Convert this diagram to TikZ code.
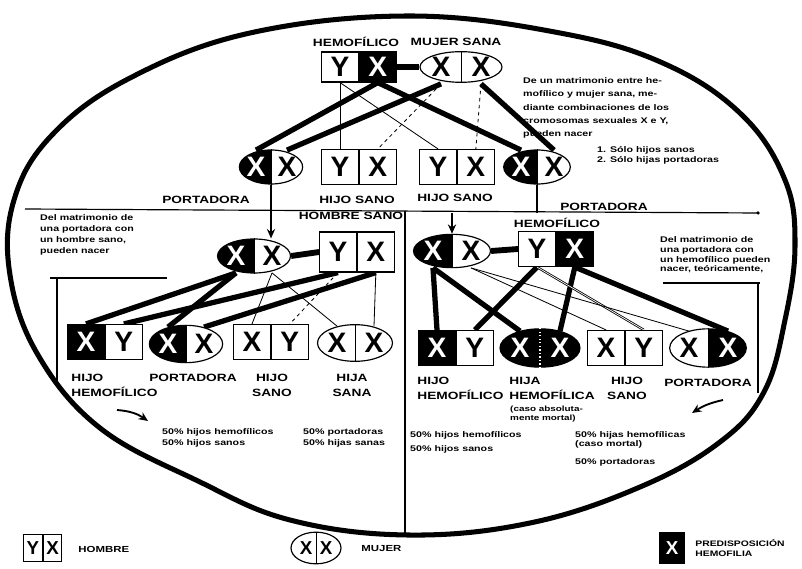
\documentclass[tikz,border=0pt]{standalone}
\usepackage{fontspec}
\setmainfont{Liberation Sans}
\newfontfamily\widesans[FakeStretch=1.3]{Liberation Sans}
\usetikzlibrary{calc,positioning,shapes.geometric,backgrounds,arrows.meta}

\newcommand{\chromfont}{\fontsize{24}{24}\selectfont\bfseries}
\newcommand{\keyfont}{\fontsize{16}{16}\selectfont\bfseries}
\newcommand{\tagfont}{\widesans\fontsize{9}{12.5}\selectfont\bfseries}
\newcommand{\notefont}{\widesans\fontsize{7}{9.4}\selectfont\bfseries}

\tikzset{
  cell/.style={draw, line width=1pt, fill=white, minimum width=1.1cm, minimum height=1.05cm, inner sep=0pt, font=\chromfont},
  cellx/.style={cell, fill=black, text=white},
  egg/.style={draw, line width=1pt, ellipse, fill=white, inner sep=0pt},
  leftdark/.style={path picture={\fill[black] (path picture bounding box.south west) rectangle (path picture bounding box.north);}},
  rightdark/.style={path picture={\fill[black] (path picture bounding box.south east) rectangle (path picture bounding box.north);}},
  gene/.style={inner sep=0pt, minimum width=1cm, minimum height=1cm, font=\chromfont},
  genex/.style={gene, text=white},
  bar/.style={line width=5pt},
  heavy/.style={line width=4.5pt},
  fine/.style={line width=0.7pt},
  broken/.style={line width=0.7pt, dashed},
  rule/.style={line width=1pt},
  tag/.style={font=\tagfont, align=center, inner sep=1pt},
  note/.style={font=\notefont, align=left, inner sep=0pt, anchor=west},
  pointer/.style={line width=1.6pt, -{Stealth[length=8pt,width=7pt]}},
}

\begin{document}
\begin{tikzpicture}[x=0.03cm, y=-0.03cm]
\useasboundingbox (0,0) rectangle (802,569);
% contorno
\draw[line width=4.3pt] plot[smooth cycle, tension=0.65] coordinates {(410,16) (560,33) (665,64) (742,115) (785,180) (795,245) (785,320) (764,392) (720,442) (640,487) (530,523) (408,535) (290,520) (198,481) (100,428) (38,355) (10,275) (14,200) (52,135) (130,78) (250,33)};
\coordinate (fbot) at (405,535);

% padres
\node[tag] (lHem) at (356,42) {HEMOFÍLICO};
\node[tag] (lSana) at (456,42) {MUJER SANA};
\node[cell, minimum height=0.9cm] (f1) at (340,67) {Y};
\node[cellx, minimum height=0.9cm, right=0pt of f1] (f2) {X};
\node[egg, minimum width=2.46cm, minimum height=0.92cm] (m) at (461,67) {};
\draw (m.north) -- (m.south);
\node[gene] (m1) at (441,67) {X};
\node[gene] (m2) at (481,67) {X};
\draw[bar] (f2.east) -- (m.west);

% primera generacion
\node[egg, leftdark, minimum width=1.9cm, minimum height=1.02cm] (c1) at (271,167) {};
\draw (c1.north) -- (c1.south);
\node[genex] (c1a) at (256,167) {X};
\node[gene] (c1b) at (287,167) {X};
\node[cell] (c2a) at (340,167) {Y};
\node[cell, right=0pt of c2a] (c2b) {X};
\node[cell] (c3a) at (438,167) {Y};
\node[cell, right=0pt of c3a] (c3b) {X};
\node[egg, leftdark, minimum width=2.0cm, minimum height=1.02cm] (c4) at (537,167) {};
\draw (c4.north) -- (c4.south);
\node[genex] (c4a) at (521,167) {X};
\node[gene] (c4b) at (554,167) {X};
\node[tag] (lPor1) at (206,200) {PORTADORA};
\node[tag] (lSan1) at (357,200) {HIJO SANO};
\node[tag] (lSan2) at (455,198) {HIJO SANO};
\node[tag] (lPor2) at (604,207) {PORTADORA};

\node[note, font=\widesans\fontsize{7}{11.3}\selectfont\bfseries] (nTop) at (523,108) {De un matrimonio entre he-\\mofílico y mujer sana, me-\\diante combinaciones de los\\cromosomas sexuales X e Y,\\pueden nacer};
\node[note, font=\widesans\fontsize{7}{8.6}\selectfont\bfseries] (nList) at (597,155) {1. Sólo hijos sanos\\2. Sólo hijas portadoras};

% lineas divisorias
\coordinate (ruleL) at (25,209);
\coordinate (ruleR) at (758,213);
\coordinate (split) at (405,211);
\draw[rule] (ruleL) -- (ruleR);
\fill (ruleR) circle[radius=1.5pt];
\draw[rule] (split) -- (fbot);

% segunda generacion, izquierda
\node[tag] (lHS) at (351,216) {HOMBRE SANO};
\node[egg, leftdark, minimum width=2.19cm, minimum height=1.02cm] (p) at (254,256) {};
\draw (p.north) -- (p.south);
\node[genex] (pa) at (236,256) {X};
\node[gene] (pb) at (272,256) {X};
\node[cell, minimum height=1.2cm] (qa) at (338,252) {Y};
\node[cell, minimum height=1.2cm, right=0pt of qa] (qb) {X};
\draw[bar] (p.east) -- (qa.west);
\draw[pointer] (c1.south) -- (c1.south |- p.north);
\node[note] (nLeft) at (40,235) {Del matrimonio de\\una portadora con\\un hombre sano,\\pueden nacer};

% segunda generacion, derecha
\node[tag] (lHem2) at (557,223) {HEMOFÍLICO};
\node[egg, leftdark, minimum width=2.31cm, minimum height=1.0cm] (r) at (452,251) {};
\draw (r.north) -- (r.south);
\node[genex] (ra) at (433,251) {X};
\node[gene] (rb) at (471,251) {X};
\node[cell] (sa) at (537,249) {Y};
\node[cellx, right=0pt of sa] (sb) {X};
\draw[bar] (r.east) -- (sa.west);
\coordinate (dropR) at (c4.south |- ruleR);
\draw[rule] (c4.south) -- (dropR);
\draw[pointer] (r.north |- ruleR) -- (r.north);
\node[note, font=\widesans\fontsize{7}{8.2}\selectfont\bfseries] (nRight) at (660,255) {Del matrimonio de\\una portadora con\\un hemofílico pueden\\nacer, teóricamente,};

% tercera generacion, izquierda
\node[cellx] (d1a) at (86,342) {X};
\node[cell, right=0pt of d1a] (d1b) {Y};
\node[egg, leftdark, minimum width=2.2cm, minimum height=1.12cm] (d2) at (186,344) {};
\draw (d2.north) -- (d2.south);
\node[genex] (d2a) at (168,344) {X};
\node[gene] (d2b) at (204,344) {X};
\node[cell] (d3a) at (252,342) {X};
\node[cell, right=0pt of d3a] (d3b) {Y};
\node[egg, minimum width=2.25cm, minimum height=1.1cm] (d4) at (355,343) {};
\draw (d4.north) -- (d4.south);
\node[gene] (d4a) at (337,343) {X};
\node[gene] (d4b) at (374,343) {X};
\node[tag, align=left, anchor=north west] (lD1) at (70,373) {HIJO\\HEMOFÍLICO};
\node[tag, anchor=north] (lD2) at (193,373) {PORTADORA};
\node[tag, anchor=north] (lD3) at (272,373) {HIJO\\SANO};
\node[tag, anchor=north] (lD4) at (352,373) {HIJA\\SANA};

% tercera generacion, derecha
\node[cellx] (e1a) at (437,348) {X};
\node[cell, right=0pt of e1a] (e1b) {Y};
\node[egg, fill=black, minimum width=2.4cm, minimum height=1.15cm] (e2) at (540,348) {};
\draw[white, dotted, line width=1pt] (e2.north) -- (e2.south);
\node[genex] (e2a) at (520,348) {X};
\node[genex] (e2b) at (560,348) {X};
\node[cell] (e3a) at (606,348) {X};
\node[cell, right=0pt of e3a] (e3b) {Y};
\node[egg, rightdark, minimum width=2.3cm, minimum height=1.15cm] (e4) at (708,348) {};
\draw (e4.north) -- (e4.south);
\node[gene] (e4a) at (689,348) {X};
\node[genex] (e4b) at (728,348) {X};
\node[tag, align=left, anchor=north west] (lE1) at (416,376) {HIJO\\HEMOFÍLICO};
\node[tag, align=left, anchor=north west] (lE2) at (508,376) {HIJA\\HEMOFÍLICA};
\node[note, anchor=north west, font=\widesans\fontsize{6.5}{7.5}\selectfont\bfseries] (lE2b) at (510,406) {(caso absoluta-\\mente mortal)};
\node[tag, anchor=north] (lE3) at (627,376) {HIJO\\SANO};
\node[tag, anchor=north] (lE4) at (708,378) {PORTADORA};

% llaves laterales
\coordinate (kL1) at (50,278);
\coordinate (kL2) at (167,278);
\coordinate (kL3) at (57,278);
\coordinate (kL4) at (57,382);
\draw[rule] (kL1) -- (kL2);
\draw[rule] (kL3) -- (kL4);
\coordinate (kR1) at (663,283);
\coordinate (kR2) at (760,283);
\coordinate (kR3) at (758,283);
\coordinate (kR4) at (758,393);
\draw[rule] (kR1) -- (kR2);
\draw[rule] (kR3) -- (kR4);
\coordinate (aL1) at (117,410);
\coordinate (aL2) at (148,421);
\draw[pointer] (aL1) to[bend left=15] (aL2);
\coordinate (aR1) at (723,400);
\coordinate (aR2) at (692,413);
\draw[pointer] (aR1) to[bend right=10] (aR2);

% porcentajes
\node[note, font=\widesans\fontsize{7}{9.4}\selectfont\bfseries] (pL1) at (162,438) {50\% hijos hemofílicos\\50\% hijos sanos};
\node[note, font=\widesans\fontsize{7}{9.4}\selectfont\bfseries] (pL2) at (303,438) {50\% portadoras\\50\% hijas sanas};
\node[note, font=\widesans\fontsize{7}{12}\selectfont\bfseries] (pR1) at (410,442) {50\% hijos hemofílicos\\50\% hijos sanos};
\node[note, font=\widesans\fontsize{7}{7.8}\selectfont\bfseries] (pR2) at (575,440) {50\% hijas hemofílicas\\(caso mortal)};
\node[note] (pR3) at (575,462) {50\% portadoras};

% leyenda
\node[cell, minimum width=0.55cm, minimum height=0.8cm, font=\keyfont] (kY) at (33,548) {Y};
\node[cell, minimum width=0.55cm, minimum height=0.8cm, font=\keyfont, right=0pt of kY] (kX) {X};
\node[tag, anchor=west, font=\widesans\fontsize{7.5}{8}\selectfont\bfseries] (lMan) at (77,549) {HOMBRE};
\node[egg, minimum width=1.5cm, minimum height=0.95cm] (kW) at (316,548) {};
\draw (kW.north) -- (kW.south);
\node[gene, minimum width=0.7cm, font=\keyfont] (kW1) at (306,548) {X};
\node[gene, minimum width=0.7cm, font=\keyfont] (kW2) at (326,548) {X};
\node[tag, anchor=west, font=\widesans\fontsize{7.5}{8}\selectfont\bfseries] (lWoman) at (360,549) {MUJER};
\node[cellx, minimum width=0.75cm, minimum height=0.95cm, font=\keyfont] (kB) at (672,548) {X};
\node[tag, anchor=west, align=left, font=\widesans\fontsize{6.8}{8.5}\selectfont\bfseries] (lPre) at (694,548) {PREDISPOSICIÓN\\HEMOFILIA};

% herencia
\begin{scope}[on background layer]
\draw[heavy] (f2.south) -- (c1a.north);
\draw[heavy] (f2.south) -- (c4a.north);
\draw[heavy] (m1.south) -- (c1b.north);
\draw[heavy] (m2.south) -- (c4b.north);
\draw[fine] (f1.south) -- (c2a.north);
\draw[fine] (f1.south) -- (c3a.north);
\draw[broken] (m1.south) -- (c2b.north);
\draw[broken] (m2.south) -- (c3b.north);

\draw[heavy] (pa.south) -- (d1a.north);
\draw[heavy] (pa.south) -- (d2a.north);
\draw[heavy] (qa.south) -- (d1b.north);
\draw[heavy] (qb.south) -- (d2b.north);
\draw[fine] (pb.south) -- (d3a.north);
\draw[fine] (pb.south) -- (d4a.north);
\draw[broken] (qa.south) -- (d3b.north);
\draw[fine] (qb.south) -- (d4b.north);

\draw[heavy] (ra.south) -- (e1a.north);
\draw[heavy] (ra.south) -- (e2a.north);
\draw[heavy] (sa.south) -- (e1b.north);
\draw[heavy] (sb.south) -- (e2b.north);
\draw[fine] (rb.south) -- (e3a.north);
\draw[fine, double] (sa.south) -- (e3b.north);
\draw[fine] (rb.south) -- (e4a.north);
\draw[heavy] (sb.south) -- (e4b.north);
\end{scope}
\end{tikzpicture}
\end{document}
